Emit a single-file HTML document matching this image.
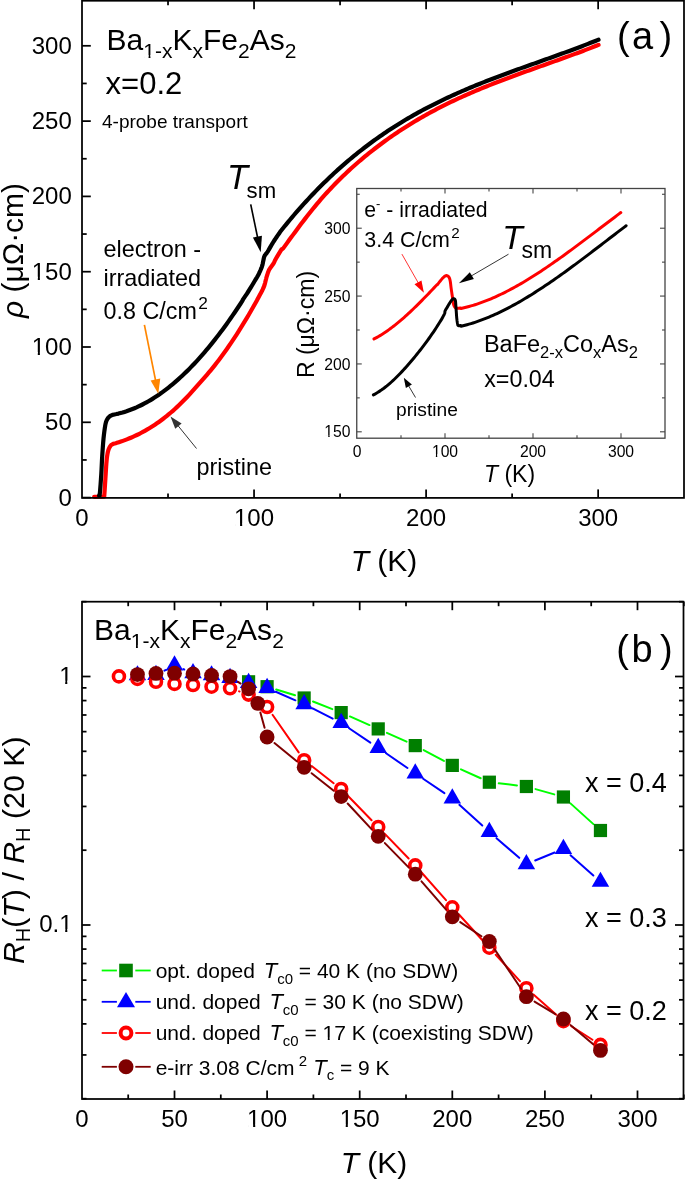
<!DOCTYPE html>
<html><head><meta charset="utf-8"><style>
html,body{margin:0;padding:0;background:#fff;width:685px;height:1180px;overflow:hidden}
svg{display:block;will-change:transform}
text{font-family:"Liberation Sans",sans-serif;fill:#000}
</style></head><body>
<svg width="685" height="1180" viewBox="0 0 685 1180" font-family="Liberation Sans, sans-serif"><polyline points="94.20,496.80 104.20,496.60 104.22,496.36 104.23,496.40 104.27,495.89 104.40,494.00 104.66,490.02 105.01,484.56 105.38,478.76 105.70,473.80 105.94,469.92 106.15,466.54 106.36,463.51 106.60,460.70 106.88,458.11 107.18,455.81 107.52,453.75 107.90,451.90 108.34,450.28 108.82,448.91 109.34,447.73 109.90,446.70 110.47,445.86 111.05,445.21 111.71,444.68 112.50,444.20 113.47,443.79 114.59,443.48 115.76,443.20 116.90,442.85 118.90,442.22 120.90,441.56 122.90,440.86 124.90,440.13 126.90,439.37 128.90,438.57 130.90,437.73 132.90,436.86 134.90,435.95 136.90,435.01 138.90,434.02 140.90,433.00 142.90,431.93 144.90,430.83 146.90,429.69 148.90,428.50 150.90,427.27 152.90,426.00 154.90,424.68 156.90,423.33 158.90,421.92 160.90,420.47 162.90,418.98 164.90,417.44 166.90,415.85 168.90,414.21 170.90,412.52 172.90,410.79 174.90,409.01 176.90,407.17 178.90,405.28 180.90,403.35 182.90,401.36 184.90,399.31 186.90,397.22 188.90,395.08 190.90,392.89 192.90,390.68 194.90,388.44 196.90,386.19 198.90,383.93 200.90,381.66 202.90,379.39 204.90,377.11 206.90,374.80 208.90,372.46 210.90,370.07 212.90,367.62 214.90,365.12 216.90,362.56 218.90,359.95 220.90,357.28 222.90,354.55 224.90,351.78 226.90,348.95 228.90,346.06 230.90,343.13 232.90,340.14 234.90,337.10 236.90,334.02 238.90,330.88 240.90,327.69 242.90,324.45 244.90,321.16 246.90,317.83 248.90,314.45 250.90,311.02 252.90,307.54 254.90,304.02 256.90,300.45 257.10,300.00 258.47,297.42 259.91,294.76 261.31,292.14 262.58,289.68 263.60,287.50 264.33,285.63 264.84,283.99 265.20,282.54 265.49,281.22 265.80,280.00 266.09,278.95 266.30,278.09 266.50,277.32 266.71,276.53 267.00,275.60 267.34,274.52 267.71,273.35 268.13,272.14 268.62,270.91 269.20,269.70 269.94,268.49 270.81,267.27 271.74,266.05 272.63,264.85 273.40,263.70 273.95,262.71 274.34,261.86 274.72,261.00 275.22,259.93 276.00,258.50 277.12,256.60 278.48,254.35 279.99,251.90 281.53,249.40 283.00,248.63 285.00,245.87 287.00,243.11 289.00,240.35 291.00,237.60 293.00,234.87 295.00,232.15 297.00,229.45 299.00,226.76 301.00,224.10 303.00,221.46 305.00,218.86 307.00,216.28 309.00,213.73 311.00,211.22 313.00,208.74 315.00,206.31 317.00,203.92 319.00,201.56 321.00,199.24 323.00,196.96 325.00,194.72 327.00,192.51 329.00,190.34 331.00,188.20 333.00,186.10 335.00,184.02 337.00,181.99 339.00,179.98 341.00,178.00 343.00,176.06 345.00,174.14 347.00,172.25 349.00,170.40 351.00,168.56 353.00,166.76 355.00,164.98 357.00,163.23 359.00,161.50 361.00,159.80 363.00,158.12 365.00,156.46 367.00,154.83 369.00,153.21 371.00,151.62 373.00,150.05 375.00,148.49 377.00,146.96 379.00,145.45 381.00,143.95 383.00,142.48 385.00,141.02 387.00,139.58 389.00,138.16 391.00,136.76 393.00,135.38 395.00,134.01 397.00,132.66 399.00,131.33 401.00,130.02 403.00,128.72 405.00,127.44 407.00,126.17 409.00,124.92 411.00,123.69 413.00,122.47 415.00,121.27 417.00,120.08 419.00,118.91 421.00,117.75 423.00,116.61 425.00,115.48 427.00,114.36 429.00,113.26 431.00,112.17 433.00,111.09 435.00,110.03 437.00,108.98 439.00,107.95 441.00,106.92 443.00,105.91 445.00,104.91 447.00,103.92 449.00,102.94 451.00,101.97 453.00,101.01 455.00,100.07 457.00,99.13 459.00,98.21 461.00,97.29 463.00,96.39 465.00,95.49 467.00,94.60 469.00,93.73 471.00,92.86 473.00,92.00 475.00,91.14 477.00,90.30 479.00,89.46 481.00,88.63 483.00,87.81 485.00,87.00 487.00,86.19 489.00,85.39 491.00,84.59 493.00,83.81 495.00,83.02 497.00,82.25 499.00,81.47 501.00,80.71 503.00,79.95 505.00,79.19 507.00,78.44 509.00,77.69 511.00,76.95 513.00,76.21 515.00,75.47 517.00,74.74 519.00,74.01 521.00,73.28 523.00,72.56 525.00,71.84 527.00,71.12 529.00,70.40 531.00,69.68 533.00,68.97 535.00,68.26 537.00,67.54 539.00,66.83 541.00,66.12 543.00,65.41 545.00,64.70 547.00,63.99 549.00,63.28 551.00,62.57 553.00,61.86 555.00,61.14 557.00,60.43 559.00,59.71 561.00,58.99 563.00,58.27 565.00,57.55 567.00,56.83 569.00,56.10 571.00,55.37 573.00,54.64 575.00,53.90 577.00,53.16 579.00,52.41 581.00,51.66 583.00,50.91 585.00,50.15 587.00,49.39 589.00,48.62 591.00,47.85 593.00,47.07 595.00,46.29 597.00,45.50 598.50,44.90" fill="none" stroke="#ff0000" stroke-width="4.2" stroke-linejoin="round" stroke-linecap="round" />
<polyline points="99.10,495.50 99.26,495.53 99.40,495.86 99.57,495.60 99.80,493.90 100.13,490.11 100.54,484.84 100.95,479.08 101.30,473.80 101.56,469.24 101.76,464.89 101.96,460.61 102.20,456.30 102.49,451.82 102.80,447.27 103.14,442.87 103.50,438.80 103.90,435.04 104.33,431.51 104.77,428.35 105.20,425.70 105.58,423.70 105.94,422.25 106.33,421.10 106.80,420.00 107.39,418.93 108.06,417.99 108.78,417.19 109.50,416.50 110.23,415.97 110.98,415.58 111.74,415.26 112.50,414.86 114.50,414.48 116.50,414.06 118.50,413.59 120.50,413.07 122.50,412.52 124.50,411.91 126.50,411.27 128.50,410.57 130.50,409.84 132.50,409.06 134.50,408.23 136.50,407.37 138.50,406.45 140.50,405.50 142.50,404.50 144.50,403.46 146.50,402.37 148.50,401.24 150.50,400.07 152.50,398.85 154.50,397.59 156.50,396.29 158.50,394.94 160.50,393.55 162.50,392.12 164.50,390.65 166.50,389.13 168.50,387.57 170.50,385.97 172.50,384.32 174.50,382.64 176.50,380.91 178.50,379.14 180.50,377.32 182.50,375.47 184.50,373.57 186.50,371.63 188.50,369.65 190.50,367.62 192.50,365.56 194.50,363.45 196.50,361.31 198.50,359.12 200.50,356.89 202.50,354.61 204.50,352.30 206.50,349.95 208.50,347.55 210.50,345.12 212.50,342.64 214.50,340.12 216.50,337.57 218.50,334.97 220.50,332.33 222.50,329.65 224.50,326.93 226.50,324.17 228.50,321.37 230.50,318.53 232.50,315.65 234.50,312.73 236.50,309.77 238.50,306.77 240.50,303.74 242.50,300.66 242.70,300.00 243.74,298.45 244.75,296.94 245.78,295.42 246.85,293.79 248.00,292.00 249.30,289.92 250.72,287.60 252.16,285.22 253.52,282.96 254.70,281.00 255.65,279.43 256.45,278.14 257.15,276.98 257.81,275.81 258.50,274.50 259.24,272.99 259.98,271.38 260.70,269.75 261.35,268.16 261.90,266.70 262.31,265.38 262.61,264.15 262.85,262.99 263.06,261.88 263.30,260.80 263.52,259.76 263.71,258.77 263.90,257.82 264.15,256.90 264.50,256.00 264.98,255.17 265.55,254.40 266.18,253.64 266.84,252.83 267.50,251.90 268.17,250.82 268.86,249.63 269.57,248.38 270.29,247.12 271.00,245.90 271.68,244.74 272.35,243.62 273.03,242.49 273.76,241.30 274.60,240.00 275.56,238.56 276.63,237.02 277.75,235.41 278.89,233.79 280.00,232.04 282.00,229.52 284.00,227.04 286.00,224.58 288.00,222.15 290.00,219.74 292.00,217.36 294.00,215.01 296.00,212.69 298.00,210.39 300.00,208.12 302.00,205.88 304.00,203.66 306.00,201.47 308.00,199.30 310.00,197.16 312.00,195.04 314.00,192.94 316.00,190.88 318.00,188.83 320.00,186.81 322.00,184.81 324.00,182.84 326.00,180.89 328.00,178.96 330.00,177.06 332.00,175.18 334.00,173.32 336.00,171.49 338.00,169.67 340.00,167.88 342.00,166.11 344.00,164.36 346.00,162.63 348.00,160.92 350.00,159.24 352.00,157.57 354.00,155.93 356.00,154.30 358.00,152.70 360.00,151.11 362.00,149.54 364.00,148.00 366.00,146.47 368.00,144.96 370.00,143.47 372.00,141.99 374.00,140.54 376.00,139.10 378.00,137.69 380.00,136.28 382.00,134.90 384.00,133.53 386.00,132.18 388.00,130.85 390.00,129.53 392.00,128.23 394.00,126.95 396.00,125.68 398.00,124.42 400.00,123.18 402.00,121.96 404.00,120.75 406.00,119.56 408.00,118.38 410.00,117.21 412.00,116.06 414.00,114.93 416.00,113.80 418.00,112.69 420.00,111.59 422.00,110.51 424.00,109.44 426.00,108.38 428.00,107.33 430.00,106.29 432.00,105.27 434.00,104.26 436.00,103.26 438.00,102.27 440.00,101.29 442.00,100.32 444.00,99.37 446.00,98.42 448.00,97.48 450.00,96.55 452.00,95.64 454.00,94.73 456.00,93.83 458.00,92.94 460.00,92.06 462.00,91.19 464.00,90.32 466.00,89.47 468.00,88.62 470.00,87.78 472.00,86.94 474.00,86.12 476.00,85.30 478.00,84.49 480.00,83.68 482.00,82.88 484.00,82.09 486.00,81.30 488.00,80.52 490.00,79.74 492.00,78.97 494.00,78.20 496.00,77.44 498.00,76.69 500.00,75.93 502.00,75.19 504.00,74.44 506.00,73.70 508.00,72.97 510.00,72.23 512.00,71.50 514.00,70.77 516.00,70.05 518.00,69.33 520.00,68.61 522.00,67.89 524.00,67.17 526.00,66.46 528.00,65.74 530.00,65.03 532.00,64.32 534.00,63.61 536.00,62.90 538.00,62.18 540.00,61.47 542.00,60.76 544.00,60.05 546.00,59.34 548.00,58.63 550.00,57.91 552.00,57.20 554.00,56.48 556.00,55.76 558.00,55.04 560.00,54.32 562.00,53.60 564.00,52.87 566.00,52.14 568.00,51.41 570.00,50.67 572.00,49.93 574.00,49.19 576.00,48.44 578.00,47.69 580.00,46.93 582.00,46.17 584.00,45.40 586.00,44.63 588.00,43.86 590.00,43.08 592.00,42.29 594.00,41.50 596.00,40.70 598.00,39.89 598.50,39.69" fill="none" stroke="#000" stroke-width="4.2" stroke-linejoin="round" stroke-linecap="round" />
<rect x="82" y="0.75" width="602" height="497.15" fill="none" stroke="#000" stroke-width="1.75"/>
<line x1="82.00" y1="497.60" x2="90.80" y2="497.60" stroke="#000" stroke-width="1.75"/>
<line x1="82.00" y1="459.95" x2="86.70" y2="459.95" stroke="#000" stroke-width="1.75"/>
<line x1="82.00" y1="422.30" x2="90.80" y2="422.30" stroke="#000" stroke-width="1.75"/>
<line x1="82.00" y1="384.65" x2="86.70" y2="384.65" stroke="#000" stroke-width="1.75"/>
<line x1="82.00" y1="347.00" x2="90.80" y2="347.00" stroke="#000" stroke-width="1.75"/>
<line x1="82.00" y1="309.35" x2="86.70" y2="309.35" stroke="#000" stroke-width="1.75"/>
<line x1="82.00" y1="271.70" x2="90.80" y2="271.70" stroke="#000" stroke-width="1.75"/>
<line x1="82.00" y1="234.05" x2="86.70" y2="234.05" stroke="#000" stroke-width="1.75"/>
<line x1="82.00" y1="196.40" x2="90.80" y2="196.40" stroke="#000" stroke-width="1.75"/>
<line x1="82.00" y1="158.75" x2="86.70" y2="158.75" stroke="#000" stroke-width="1.75"/>
<line x1="82.00" y1="121.10" x2="90.80" y2="121.10" stroke="#000" stroke-width="1.75"/>
<line x1="82.00" y1="83.45" x2="86.70" y2="83.45" stroke="#000" stroke-width="1.75"/>
<line x1="82.00" y1="45.80" x2="90.80" y2="45.80" stroke="#000" stroke-width="1.75"/>
<line x1="168.02" y1="497.90" x2="168.02" y2="493.40" stroke="#000" stroke-width="1.75"/>
<line x1="168.02" y1="0.75" x2="168.02" y2="5.25" stroke="#000" stroke-width="1.75"/>
<line x1="254.05" y1="497.90" x2="254.05" y2="489.40" stroke="#000" stroke-width="1.75"/>
<line x1="254.05" y1="0.75" x2="254.05" y2="9.25" stroke="#000" stroke-width="1.75"/>
<line x1="340.07" y1="497.90" x2="340.07" y2="493.40" stroke="#000" stroke-width="1.75"/>
<line x1="340.07" y1="0.75" x2="340.07" y2="5.25" stroke="#000" stroke-width="1.75"/>
<line x1="426.10" y1="497.90" x2="426.10" y2="489.40" stroke="#000" stroke-width="1.75"/>
<line x1="426.10" y1="0.75" x2="426.10" y2="9.25" stroke="#000" stroke-width="1.75"/>
<line x1="512.12" y1="497.90" x2="512.12" y2="493.40" stroke="#000" stroke-width="1.75"/>
<line x1="512.12" y1="0.75" x2="512.12" y2="5.25" stroke="#000" stroke-width="1.75"/>
<line x1="598.15" y1="497.90" x2="598.15" y2="489.40" stroke="#000" stroke-width="1.75"/>
<line x1="598.15" y1="0.75" x2="598.15" y2="9.25" stroke="#000" stroke-width="1.75"/>
<text x="71.80" y="505.50" font-size="24" text-anchor="end" >0</text>
<text x="71.80" y="430.20" font-size="24" text-anchor="end" >50</text>
<text x="71.80" y="354.90" font-size="24" text-anchor="end" >100</text>
<rect x="32.91" y="352.01" width="4.88" height="3.59" fill="#fff"/>
<rect x="39.91" y="352.01" width="4.69" height="3.59" fill="#fff"/>
<text x="71.80" y="279.60" font-size="24" text-anchor="end" >150</text>
<rect x="32.91" y="276.71" width="4.88" height="3.59" fill="#fff"/>
<rect x="39.91" y="276.71" width="4.69" height="3.59" fill="#fff"/>
<text x="71.80" y="204.30" font-size="24" text-anchor="end" >200</text>
<text x="71.80" y="129.00" font-size="24" text-anchor="end" >250</text>
<text x="71.80" y="53.70" font-size="24" text-anchor="end" >300</text>
<text x="82.00" y="526.40" font-size="24" text-anchor="middle" >0</text>
<text x="254.05" y="526.40" font-size="24" text-anchor="middle" >100</text>
<rect x="235.19" y="523.51" width="4.88" height="3.59" fill="#fff"/>
<rect x="242.18" y="523.51" width="4.69" height="3.59" fill="#fff"/>
<text x="426.10" y="526.40" font-size="24" text-anchor="middle" >200</text>
<text x="598.15" y="526.40" font-size="24" text-anchor="middle" >300</text>
<text x="384" y="571" font-size="30" text-anchor="middle"><tspan font-style="italic">T</tspan> (K)</text>
<text transform="translate(23,250.5) rotate(-90)" font-size="30" text-anchor="middle"><tspan font-style="italic">ρ</tspan> (μΩ·cm)</text>
<text x="106.6" y="49.5" font-size="30">Ba<tspan font-size="21" dy="8.3">1-x</tspan><tspan dy="-8.3">K</tspan><tspan font-size="21" dy="8.3">x</tspan><tspan dy="-8.3">Fe</tspan><tspan font-size="21" dy="8.3">2</tspan><tspan dy="-8.3">As</tspan><tspan font-size="21" dy="8.3">2</tspan></text>
<text x="105.60" y="93.60" font-size="31" text-anchor="start" >x=0.2</text>
<text x="102.00" y="128.00" font-size="19" text-anchor="start" >4-probe transport</text>
<rect x="144.23" y="55.13" width="4.34" height="3.37" fill="#fff"/>
<rect x="150.43" y="55.13" width="4.18" height="3.37" fill="#fff"/>
<text x="103.50" y="256.60" font-size="23.4" text-anchor="start" >electron -</text>
<text x="103.50" y="286.00" font-size="23.4" text-anchor="start" >irradiated</text>
<text x="103.6" y="319.2" font-size="23.3">0.8 C/cm<tspan font-size="17.3" dx="1.5" dy="-9.8">2</tspan></text>
<text x="196.50" y="474.60" font-size="23.4" text-anchor="start" >pristine</text>
<text x="226.9" y="188.5" font-size="34.4" font-style="italic">T</text>
<text x="246.60" y="197.60" font-size="22.2" text-anchor="start" >sm</text>
<text x="617" y="49.1" font-size="38">(</text><text x="632" y="49.1" font-size="38">a</text><text x="659.5" y="49.1" font-size="38">)</text>
<line x1="144.40" y1="324.90" x2="155.63" y2="380.57" stroke="#ff8600" stroke-width="1.7"/>
<polygon points="158.30,393.80 150.63,380.56 160.24,378.62" fill="#ff8600"/>
<line x1="196.50" y1="448.50" x2="177.80" y2="425.41" stroke="#333" stroke-width="1.0"/>
<polygon points="170.50,416.40 181.62,423.61 175.24,428.77" fill="#333"/>
<line x1="250.70" y1="204.40" x2="257.63" y2="237.62" stroke="#000" stroke-width="1.65"/>
<polygon points="260.70,252.30 252.93,237.58 261.93,235.70" fill="#000"/>
<rect x="356.75" y="188.5" width="308.25" height="249.7" fill="#fff" stroke="#444" stroke-width="1.3"/>
<line x1="356.75" y1="431.80" x2="361.75" y2="431.80" stroke="#444" stroke-width="1.1"/>
<line x1="665.00" y1="431.80" x2="660.00" y2="431.80" stroke="#444" stroke-width="1.1"/>
<line x1="356.75" y1="397.87" x2="359.75" y2="397.87" stroke="#444" stroke-width="1.1"/>
<line x1="665.00" y1="397.87" x2="662.00" y2="397.87" stroke="#444" stroke-width="1.1"/>
<line x1="356.75" y1="363.94" x2="361.75" y2="363.94" stroke="#444" stroke-width="1.1"/>
<line x1="665.00" y1="363.94" x2="660.00" y2="363.94" stroke="#444" stroke-width="1.1"/>
<line x1="356.75" y1="330.00" x2="359.75" y2="330.00" stroke="#444" stroke-width="1.1"/>
<line x1="665.00" y1="330.00" x2="662.00" y2="330.00" stroke="#444" stroke-width="1.1"/>
<line x1="356.75" y1="296.07" x2="361.75" y2="296.07" stroke="#444" stroke-width="1.1"/>
<line x1="665.00" y1="296.07" x2="660.00" y2="296.07" stroke="#444" stroke-width="1.1"/>
<line x1="356.75" y1="262.14" x2="359.75" y2="262.14" stroke="#444" stroke-width="1.1"/>
<line x1="665.00" y1="262.14" x2="662.00" y2="262.14" stroke="#444" stroke-width="1.1"/>
<line x1="356.75" y1="228.21" x2="361.75" y2="228.21" stroke="#444" stroke-width="1.1"/>
<line x1="665.00" y1="228.21" x2="660.00" y2="228.21" stroke="#444" stroke-width="1.1"/>
<line x1="356.75" y1="194.27" x2="359.75" y2="194.27" stroke="#444" stroke-width="1.1"/>
<line x1="665.00" y1="194.27" x2="662.00" y2="194.27" stroke="#444" stroke-width="1.1"/>
<line x1="401.00" y1="438.20" x2="401.00" y2="435.20" stroke="#444" stroke-width="1.1"/>
<line x1="401.00" y1="188.50" x2="401.00" y2="191.50" stroke="#444" stroke-width="1.1"/>
<line x1="445.00" y1="438.20" x2="445.00" y2="433.20" stroke="#444" stroke-width="1.1"/>
<line x1="445.00" y1="188.50" x2="445.00" y2="193.50" stroke="#444" stroke-width="1.1"/>
<line x1="489.00" y1="438.20" x2="489.00" y2="435.20" stroke="#444" stroke-width="1.1"/>
<line x1="489.00" y1="188.50" x2="489.00" y2="191.50" stroke="#444" stroke-width="1.1"/>
<line x1="533.00" y1="438.20" x2="533.00" y2="433.20" stroke="#444" stroke-width="1.1"/>
<line x1="533.00" y1="188.50" x2="533.00" y2="193.50" stroke="#444" stroke-width="1.1"/>
<line x1="577.00" y1="438.20" x2="577.00" y2="435.20" stroke="#444" stroke-width="1.1"/>
<line x1="577.00" y1="188.50" x2="577.00" y2="191.50" stroke="#444" stroke-width="1.1"/>
<line x1="621.00" y1="438.20" x2="621.00" y2="433.20" stroke="#444" stroke-width="1.1"/>
<line x1="621.00" y1="188.50" x2="621.00" y2="193.50" stroke="#444" stroke-width="1.1"/>
<text x="350.50" y="437.40" font-size="15.7" text-anchor="end" >150</text>
<rect x="324.86" y="435.13" width="3.40" height="2.97" fill="#fff"/>
<rect x="329.64" y="435.13" width="3.28" height="2.97" fill="#fff"/>
<text x="350.50" y="369.54" font-size="15.7" text-anchor="end" >200</text>
<text x="350.50" y="301.67" font-size="15.7" text-anchor="end" >250</text>
<text x="350.50" y="233.81" font-size="15.7" text-anchor="end" >300</text>
<text x="357.00" y="456.50" font-size="15.7" text-anchor="middle" >0</text>
<text x="445.00" y="456.50" font-size="15.7" text-anchor="middle" >100</text>
<rect x="432.45" y="454.23" width="3.40" height="2.97" fill="#fff"/>
<rect x="437.24" y="454.23" width="3.28" height="2.97" fill="#fff"/>
<text x="533.00" y="456.50" font-size="15.7" text-anchor="middle" >200</text>
<text x="621.00" y="456.50" font-size="15.7" text-anchor="middle" >300</text>
<text x="509.5" y="482.4" font-size="23" text-anchor="middle"><tspan font-style="italic">T</tspan> (K)</text>
<text transform="translate(313.5,324.5) rotate(-90)" font-size="23" text-anchor="middle">R (μΩ·cm)</text>
<polyline points="374.00,338.95 375.50,338.16 377.00,337.34 378.50,336.49 380.00,335.61 381.50,334.69 383.00,333.74 384.50,332.76 386.00,331.75 387.50,330.71 389.00,329.64 390.50,328.54 392.00,327.41 393.50,326.26 395.00,325.08 396.50,323.88 398.00,322.66 399.50,321.41 401.00,320.13 402.50,318.84 404.00,317.52 405.50,316.18 407.00,314.83 408.50,313.45 410.00,312.06 411.50,310.65 413.00,309.22 414.50,307.77 416.00,306.31 417.50,304.84 419.00,303.35 420.50,301.85 422.00,300.34 423.50,298.81 425.00,297.27 426.50,295.73 428.00,294.17 429.50,292.61 431.00,291.04 432.50,289.46 434.00,287.87 435.50,286.28 437.00,284.69 437.50,284.50 438.40,283.37 439.33,282.18 440.26,280.99 441.17,279.86 442.02,278.85 442.80,278.00 443.50,277.32 444.13,276.75 444.72,276.30 445.27,275.96 445.79,275.73 446.30,275.60 446.80,275.60 447.28,275.72 447.74,275.96 448.16,276.28 448.55,276.67 448.90,277.10 449.20,277.58 449.44,278.11 449.66,278.71 449.84,279.38 450.02,280.14 450.20,281.00 450.37,281.97 450.51,283.04 450.65,284.19 450.79,285.42 450.93,286.69 451.10,288.00 451.30,289.38 451.51,290.86 451.74,292.39 451.97,293.92 452.19,295.41 452.40,296.80 452.59,298.14 452.77,299.46 452.94,300.74 453.11,301.95 453.30,303.04 453.50,304.00 453.72,304.80 453.93,305.48 454.16,306.04 454.41,306.52 454.69,306.93 455.00,307.30 455.35,307.60 455.72,307.82 456.12,307.97 456.56,308.07 457.01,308.14 457.50,308.20 458.03,308.23 458.59,308.21 459.19,308.17 459.80,308.11 460.41,308.05 461.00,308.43 463.00,307.98 465.00,307.51 467.00,307.01 469.00,306.48 471.00,305.92 473.00,305.33 475.00,304.71 477.00,304.06 479.00,303.39 481.00,302.68 483.00,301.95 485.00,301.20 487.00,300.42 489.00,299.61 491.00,298.78 493.00,297.92 495.00,297.04 497.00,296.14 499.00,295.21 501.00,294.26 503.00,293.28 505.00,292.29 507.00,291.27 509.00,290.23 511.00,289.18 513.00,288.10 515.00,287.00 517.00,285.88 519.00,284.75 521.00,283.59 523.00,282.42 525.00,281.23 527.00,280.02 529.00,278.80 531.00,277.56 533.00,276.31 535.00,275.04 537.00,273.75 539.00,272.45 541.00,271.14 543.00,269.81 545.00,268.47 547.00,267.12 549.00,265.76 551.00,264.38 553.00,263.00 555.00,261.60 557.00,260.19 559.00,258.77 561.00,257.35 563.00,255.91 565.00,254.47 567.00,253.02 569.00,251.56 571.00,250.09 573.00,248.62 575.00,247.14 577.00,245.65 579.00,244.16 581.00,242.66 583.00,241.16 585.00,239.66 587.00,238.15 589.00,236.64 591.00,235.13 593.00,233.61 595.00,232.10 597.00,230.58 599.00,229.06 601.00,227.54 603.00,226.02 605.00,224.50 607.00,222.98 609.00,221.47 611.00,219.95 613.00,218.44 615.00,216.93 617.00,215.42 619.00,213.92 620.80,212.57" fill="none" stroke="#ff0000" stroke-width="3.0" stroke-linejoin="round" stroke-linecap="round" />
<polyline points="373.40,394.88 374.90,394.09 376.40,393.23 377.90,392.33 379.40,391.37 380.90,390.37 382.40,389.31 383.90,388.21 385.40,387.05 386.90,385.86 388.40,384.61 389.90,383.33 391.40,382.00 392.90,380.63 394.40,379.23 395.90,377.78 397.40,376.30 398.90,374.78 400.40,373.23 401.90,371.64 403.40,370.02 404.90,368.38 406.40,366.70 407.90,364.99 409.40,363.26 410.90,361.50 412.40,359.72 413.90,357.92 415.40,356.09 416.90,354.24 418.40,352.37 419.90,350.48 421.40,348.56 422.90,346.61 424.40,344.64 425.90,342.63 427.40,340.58 428.90,338.50 430.40,336.39 431.90,334.23 433.40,332.04 434.90,329.80 436.40,327.51 437.90,325.18 439.40,322.80 440.90,320.36 442.00,318.60 442.46,317.72 442.94,316.81 443.43,315.89 443.89,315.01 444.29,314.21 444.60,313.50 444.79,312.93 444.87,312.48 444.89,312.10 444.90,311.74 444.95,311.36 445.10,310.90 445.33,310.39 445.61,309.86 445.94,309.31 446.30,308.72 446.69,308.09 447.10,307.40 447.56,306.62 448.09,305.73 448.64,304.81 449.20,303.89 449.73,303.04 450.20,302.30 450.61,301.68 451.00,301.12 451.35,300.63 451.68,300.20 452.00,299.82 452.30,299.50 452.58,299.22 452.84,299.00 453.09,298.83 453.32,298.72 453.56,298.68 453.80,298.70 454.06,298.78 454.34,298.91 454.61,299.10 454.87,299.37 455.11,299.73 455.30,300.20 455.44,300.78 455.54,301.47 455.61,302.26 455.67,303.11 455.73,304.03 455.80,305.00 455.88,306.04 455.97,307.19 456.05,308.39 456.13,309.61 456.22,310.83 456.30,312.00 456.38,313.14 456.46,314.27 456.53,315.40 456.61,316.50 456.70,317.57 456.80,318.60 456.92,319.61 457.04,320.63 457.18,321.61 457.32,322.53 457.46,323.33 457.60,324.00 457.71,324.51 457.80,324.88 457.89,325.14 458.00,325.33 458.16,325.48 458.40,325.60 458.73,325.68 459.13,325.69 459.59,325.66 460.07,325.60 460.55,325.54 461.00,326.28 463.00,325.80 465.00,325.29 467.00,324.75 469.00,324.18 471.00,323.59 473.00,322.96 475.00,322.31 477.00,321.64 479.00,320.94 481.00,320.21 483.00,319.46 485.00,318.68 487.00,317.88 489.00,317.06 491.00,316.21 493.00,315.34 495.00,314.44 497.00,313.53 499.00,312.59 501.00,311.63 503.00,310.65 505.00,309.64 507.00,308.62 509.00,307.58 511.00,306.52 513.00,305.44 515.00,304.34 517.00,303.22 519.00,302.08 521.00,300.93 523.00,299.76 525.00,298.57 527.00,297.37 529.00,296.15 531.00,294.91 533.00,293.66 535.00,292.39 537.00,291.11 539.00,289.82 541.00,288.51 543.00,287.19 545.00,285.86 547.00,284.51 549.00,283.15 551.00,281.79 553.00,280.40 555.00,279.01 557.00,277.61 559.00,276.20 561.00,274.78 563.00,273.35 565.00,271.91 567.00,270.46 569.00,269.00 571.00,267.54 573.00,266.07 575.00,264.59 577.00,263.11 579.00,261.62 581.00,260.12 583.00,258.62 585.00,257.11 587.00,255.60 589.00,254.09 591.00,252.57 593.00,251.05 595.00,249.52 597.00,248.00 599.00,246.47 601.00,244.94 603.00,243.41 605.00,241.87 607.00,240.34 609.00,238.81 611.00,237.27 613.00,235.74 615.00,234.21 617.00,232.68 619.00,231.15 621.00,229.63 623.00,228.11 625.00,226.59 626.10,225.75" fill="none" stroke="#000" stroke-width="3.0" stroke-linejoin="round" stroke-linecap="round" />
<text x="364.3" y="217.4" font-size="21.2">e<tspan font-size="13" dy="-9">-</tspan><tspan dy="9"> - irradiated</tspan></text>
<text x="364.3" y="246.9" font-size="21.4">3.4 C/cm<tspan font-size="15.2" dx="1.3" dy="-8.9">2</tspan></text>
<text x="502.3" y="248.6" font-size="33.5" font-style="italic">T</text>
<text x="521.40" y="258.00" font-size="23" text-anchor="start" >sm</text>
<text x="483.9" y="352" font-size="23.5">BaFe<tspan font-size="16.5" dy="5.8">2-x</tspan><tspan dy="-5.8">Co</tspan><tspan font-size="16.5" dy="5.8">x</tspan><tspan dy="-5.8">As</tspan><tspan font-size="16.5" dy="5.8">2</tspan></text>
<text x="484.20" y="387.00" font-size="23.3" text-anchor="start" >x=0.04</text>
<text x="396.00" y="416.40" font-size="19.2" text-anchor="start" >pristine</text>
<line x1="401.90" y1="254.10" x2="418.46" y2="283.24" stroke="#ff0000" stroke-width="0.8"/>
<polygon points="423.90,292.80 414.49,284.34 421.45,280.39" fill="#ff0000"/>
<line x1="508.50" y1="254.20" x2="470.99" y2="276.13" stroke="#000" stroke-width="0.8"/>
<polygon points="458.90,283.20 469.83,272.18 473.87,279.08" fill="#000"/>
<line x1="415.50" y1="397.50" x2="408.38" y2="385.45" stroke="#000" stroke-width="0.8"/>
<polygon points="403.80,377.70 411.90,384.53 405.87,388.09" fill="#000"/>
<rect x="82" y="601.7" width="601.5" height="497.29999999999995" fill="none" stroke="#000" stroke-width="1.75"/>
<line x1="82.00" y1="1098.69" x2="86.50" y2="1098.69" stroke="#000" stroke-width="1.75"/>
<line x1="683.50" y1="1098.69" x2="679.00" y2="1098.69" stroke="#000" stroke-width="1.75"/>
<line x1="82.00" y1="1054.94" x2="86.50" y2="1054.94" stroke="#000" stroke-width="1.75"/>
<line x1="683.50" y1="1054.94" x2="679.00" y2="1054.94" stroke="#000" stroke-width="1.75"/>
<line x1="82.00" y1="1023.89" x2="86.50" y2="1023.89" stroke="#000" stroke-width="1.75"/>
<line x1="683.50" y1="1023.89" x2="679.00" y2="1023.89" stroke="#000" stroke-width="1.75"/>
<line x1="82.00" y1="999.81" x2="86.50" y2="999.81" stroke="#000" stroke-width="1.75"/>
<line x1="683.50" y1="999.81" x2="679.00" y2="999.81" stroke="#000" stroke-width="1.75"/>
<line x1="82.00" y1="980.13" x2="86.50" y2="980.13" stroke="#000" stroke-width="1.75"/>
<line x1="683.50" y1="980.13" x2="679.00" y2="980.13" stroke="#000" stroke-width="1.75"/>
<line x1="82.00" y1="963.49" x2="86.50" y2="963.49" stroke="#000" stroke-width="1.75"/>
<line x1="683.50" y1="963.49" x2="679.00" y2="963.49" stroke="#000" stroke-width="1.75"/>
<line x1="82.00" y1="949.08" x2="86.50" y2="949.08" stroke="#000" stroke-width="1.75"/>
<line x1="683.50" y1="949.08" x2="679.00" y2="949.08" stroke="#000" stroke-width="1.75"/>
<line x1="82.00" y1="936.37" x2="86.50" y2="936.37" stroke="#000" stroke-width="1.75"/>
<line x1="683.50" y1="936.37" x2="679.00" y2="936.37" stroke="#000" stroke-width="1.75"/>
<line x1="82.00" y1="925.00" x2="90.50" y2="925.00" stroke="#000" stroke-width="1.75"/>
<line x1="683.50" y1="925.00" x2="675.00" y2="925.00" stroke="#000" stroke-width="1.75"/>
<line x1="82.00" y1="850.19" x2="86.50" y2="850.19" stroke="#000" stroke-width="1.75"/>
<line x1="683.50" y1="850.19" x2="679.00" y2="850.19" stroke="#000" stroke-width="1.75"/>
<line x1="82.00" y1="806.44" x2="86.50" y2="806.44" stroke="#000" stroke-width="1.75"/>
<line x1="683.50" y1="806.44" x2="679.00" y2="806.44" stroke="#000" stroke-width="1.75"/>
<line x1="82.00" y1="775.39" x2="86.50" y2="775.39" stroke="#000" stroke-width="1.75"/>
<line x1="683.50" y1="775.39" x2="679.00" y2="775.39" stroke="#000" stroke-width="1.75"/>
<line x1="82.00" y1="751.31" x2="86.50" y2="751.31" stroke="#000" stroke-width="1.75"/>
<line x1="683.50" y1="751.31" x2="679.00" y2="751.31" stroke="#000" stroke-width="1.75"/>
<line x1="82.00" y1="731.63" x2="86.50" y2="731.63" stroke="#000" stroke-width="1.75"/>
<line x1="683.50" y1="731.63" x2="679.00" y2="731.63" stroke="#000" stroke-width="1.75"/>
<line x1="82.00" y1="714.99" x2="86.50" y2="714.99" stroke="#000" stroke-width="1.75"/>
<line x1="683.50" y1="714.99" x2="679.00" y2="714.99" stroke="#000" stroke-width="1.75"/>
<line x1="82.00" y1="700.58" x2="86.50" y2="700.58" stroke="#000" stroke-width="1.75"/>
<line x1="683.50" y1="700.58" x2="679.00" y2="700.58" stroke="#000" stroke-width="1.75"/>
<line x1="82.00" y1="687.87" x2="86.50" y2="687.87" stroke="#000" stroke-width="1.75"/>
<line x1="683.50" y1="687.87" x2="679.00" y2="687.87" stroke="#000" stroke-width="1.75"/>
<line x1="82.00" y1="676.50" x2="90.50" y2="676.50" stroke="#000" stroke-width="1.75"/>
<line x1="683.50" y1="676.50" x2="675.00" y2="676.50" stroke="#000" stroke-width="1.75"/>
<line x1="82.00" y1="601.69" x2="86.50" y2="601.69" stroke="#000" stroke-width="1.75"/>
<line x1="683.50" y1="601.69" x2="679.00" y2="601.69" stroke="#000" stroke-width="1.75"/>
<line x1="128.20" y1="1099.00" x2="128.20" y2="1094.50" stroke="#000" stroke-width="1.75"/>
<line x1="128.20" y1="601.70" x2="128.20" y2="606.20" stroke="#000" stroke-width="1.75"/>
<line x1="174.50" y1="1099.00" x2="174.50" y2="1090.50" stroke="#000" stroke-width="1.75"/>
<line x1="174.50" y1="601.70" x2="174.50" y2="610.20" stroke="#000" stroke-width="1.75"/>
<line x1="220.80" y1="1099.00" x2="220.80" y2="1094.50" stroke="#000" stroke-width="1.75"/>
<line x1="220.80" y1="601.70" x2="220.80" y2="606.20" stroke="#000" stroke-width="1.75"/>
<line x1="267.10" y1="1099.00" x2="267.10" y2="1090.50" stroke="#000" stroke-width="1.75"/>
<line x1="267.10" y1="601.70" x2="267.10" y2="610.20" stroke="#000" stroke-width="1.75"/>
<line x1="313.40" y1="1099.00" x2="313.40" y2="1094.50" stroke="#000" stroke-width="1.75"/>
<line x1="313.40" y1="601.70" x2="313.40" y2="606.20" stroke="#000" stroke-width="1.75"/>
<line x1="359.70" y1="1099.00" x2="359.70" y2="1090.50" stroke="#000" stroke-width="1.75"/>
<line x1="359.70" y1="601.70" x2="359.70" y2="610.20" stroke="#000" stroke-width="1.75"/>
<line x1="406.00" y1="1099.00" x2="406.00" y2="1094.50" stroke="#000" stroke-width="1.75"/>
<line x1="406.00" y1="601.70" x2="406.00" y2="606.20" stroke="#000" stroke-width="1.75"/>
<line x1="452.30" y1="1099.00" x2="452.30" y2="1090.50" stroke="#000" stroke-width="1.75"/>
<line x1="452.30" y1="601.70" x2="452.30" y2="610.20" stroke="#000" stroke-width="1.75"/>
<line x1="498.60" y1="1099.00" x2="498.60" y2="1094.50" stroke="#000" stroke-width="1.75"/>
<line x1="498.60" y1="601.70" x2="498.60" y2="606.20" stroke="#000" stroke-width="1.75"/>
<line x1="544.90" y1="1099.00" x2="544.90" y2="1090.50" stroke="#000" stroke-width="1.75"/>
<line x1="544.90" y1="601.70" x2="544.90" y2="610.20" stroke="#000" stroke-width="1.75"/>
<line x1="591.20" y1="1099.00" x2="591.20" y2="1094.50" stroke="#000" stroke-width="1.75"/>
<line x1="591.20" y1="601.70" x2="591.20" y2="606.20" stroke="#000" stroke-width="1.75"/>
<line x1="637.50" y1="1099.00" x2="637.50" y2="1090.50" stroke="#000" stroke-width="1.75"/>
<line x1="637.50" y1="601.70" x2="637.50" y2="610.20" stroke="#000" stroke-width="1.75"/>
<line x1="683.80" y1="1099.00" x2="683.80" y2="1094.50" stroke="#000" stroke-width="1.75"/>
<line x1="683.80" y1="601.70" x2="683.80" y2="606.20" stroke="#000" stroke-width="1.75"/>
<text x="72.50" y="683.50" font-size="24" text-anchor="end" >1</text>
<rect x="60.31" y="680.61" width="4.88" height="3.59" fill="#fff"/>
<rect x="67.31" y="680.61" width="4.69" height="3.59" fill="#fff"/>
<text x="72.50" y="932.00" font-size="24" text-anchor="end" >0.1</text>
<rect x="60.31" y="929.11" width="4.88" height="3.59" fill="#fff"/>
<rect x="67.31" y="929.11" width="4.69" height="3.59" fill="#fff"/>
<text x="81.90" y="1127.40" font-size="24" text-anchor="middle" >0</text>
<text x="174.50" y="1127.40" font-size="24" text-anchor="middle" >50</text>
<text x="267.10" y="1127.40" font-size="24" text-anchor="middle" >100</text>
<rect x="248.24" y="1124.51" width="4.88" height="3.59" fill="#fff"/>
<rect x="255.23" y="1124.51" width="4.69" height="3.59" fill="#fff"/>
<text x="359.70" y="1127.40" font-size="24" text-anchor="middle" >150</text>
<rect x="340.84" y="1124.51" width="4.88" height="3.59" fill="#fff"/>
<rect x="347.83" y="1124.51" width="4.69" height="3.59" fill="#fff"/>
<text x="452.30" y="1127.40" font-size="24" text-anchor="middle" >200</text>
<text x="544.90" y="1127.40" font-size="24" text-anchor="middle" >250</text>
<text x="637.50" y="1127.40" font-size="24" text-anchor="middle" >300</text>
<text x="374" y="1172.8" font-size="29.9" text-anchor="middle"><tspan font-style="italic">T</tspan> (K)</text>
<text transform="translate(23.5,850.3) rotate(-90)" font-size="30.3" text-anchor="middle"><tspan font-style="italic">R</tspan><tspan font-size="20" dy="6">H</tspan><tspan dy="-6">(</tspan><tspan font-style="italic">T</tspan>) / <tspan font-style="italic">R</tspan><tspan font-size="20" dy="6">H</tspan><tspan dy="-6"> (20 K)</tspan></text>
<text x="94" y="639.5" font-size="30">Ba<tspan font-size="21" dy="8.3">1-x</tspan><tspan dy="-8.3">K</tspan><tspan font-size="21" dy="8.3">x</tspan><tspan dy="-8.3">Fe</tspan><tspan font-size="21" dy="8.3">2</tspan><tspan dy="-8.3">As</tspan><tspan font-size="21" dy="8.3">2</tspan></text>
<text x="616.3" y="661.7" font-size="38">(</text><text x="631.5" y="661.7" font-size="38">b</text><text x="660" y="661.7" font-size="38">)</text>
<rect x="131.63" y="645.13" width="4.34" height="3.37" fill="#fff"/>
<rect x="137.83" y="645.13" width="4.18" height="3.37" fill="#fff"/>
<text x="585.00" y="791.50" font-size="27" text-anchor="start" >x = 0.4</text>
<text x="585.00" y="926.50" font-size="27" text-anchor="start" >x = 0.3</text>
<text x="585.00" y="1019.60" font-size="27" text-anchor="start" >x = 0.2</text>
<line x1="276.19" y1="689.47" x2="295.05" y2="695.23" stroke="#00ff00" stroke-width="2.0" stroke-linecap="round"/>
<line x1="312.98" y1="701.48" x2="332.34" y2="709.12" stroke="#00ff00" stroke-width="2.0" stroke-linecap="round"/>
<line x1="349.88" y1="716.43" x2="369.52" y2="725.07" stroke="#00ff00" stroke-width="2.0" stroke-linecap="round"/>
<line x1="386.88" y1="732.80" x2="406.60" y2="741.70" stroke="#00ff00" stroke-width="2.0" stroke-linecap="round"/>
<line x1="423.64" y1="750.08" x2="443.92" y2="760.92" stroke="#00ff00" stroke-width="2.0" stroke-linecap="round"/>
<line x1="460.95" y1="769.32" x2="480.69" y2="778.28" stroke="#00ff00" stroke-width="2.0" stroke-linecap="round"/>
<line x1="498.78" y1="783.30" x2="516.94" y2="785.40" stroke="#00ff00" stroke-width="2.0" stroke-linecap="round"/>
<line x1="535.52" y1="789.09" x2="554.28" y2="794.41" stroke="#00ff00" stroke-width="2.0" stroke-linecap="round"/>
<line x1="570.47" y1="803.37" x2="593.41" y2="824.13" stroke="#00ff00" stroke-width="2.0" stroke-linecap="round"/>
<rect x="241.98" y="675.20" width="13.2" height="13.2" fill="#007f00"/>
<rect x="260.50" y="680.10" width="13.2" height="13.2" fill="#007f00"/>
<rect x="297.54" y="691.40" width="13.2" height="13.2" fill="#007f00"/>
<rect x="334.58" y="706.00" width="13.2" height="13.2" fill="#007f00"/>
<rect x="371.62" y="722.30" width="13.2" height="13.2" fill="#007f00"/>
<rect x="408.66" y="739.00" width="13.2" height="13.2" fill="#007f00"/>
<rect x="445.70" y="758.80" width="13.2" height="13.2" fill="#007f00"/>
<rect x="482.74" y="775.60" width="13.2" height="13.2" fill="#007f00"/>
<rect x="519.78" y="779.90" width="13.2" height="13.2" fill="#007f00"/>
<rect x="556.82" y="790.40" width="13.2" height="13.2" fill="#007f00"/>
<rect x="593.86" y="823.90" width="13.2" height="13.2" fill="#007f00"/>
<line x1="164.41" y1="670.63" x2="166.07" y2="669.77" stroke="#0000ff" stroke-width="2.0" stroke-linecap="round"/>
<line x1="183.26" y1="669.09" x2="184.26" y2="669.51" stroke="#0000ff" stroke-width="2.0" stroke-linecap="round"/>
<line x1="275.81" y1="691.79" x2="295.43" y2="700.31" stroke="#0000ff" stroke-width="2.0" stroke-linecap="round"/>
<line x1="312.61" y1="708.40" x2="332.71" y2="718.60" stroke="#0000ff" stroke-width="2.0" stroke-linecap="round"/>
<line x1="349.05" y1="728.21" x2="370.35" y2="742.59" stroke="#0000ff" stroke-width="2.0" stroke-linecap="round"/>
<line x1="386.04" y1="753.29" x2="407.44" y2="768.01" stroke="#0000ff" stroke-width="2.0" stroke-linecap="round"/>
<line x1="423.12" y1="778.73" x2="444.44" y2="793.17" stroke="#0000ff" stroke-width="2.0" stroke-linecap="round"/>
<line x1="459.36" y1="804.86" x2="482.28" y2="825.54" stroke="#0000ff" stroke-width="2.0" stroke-linecap="round"/>
<line x1="496.51" y1="838.13" x2="519.21" y2="857.87" stroke="#0000ff" stroke-width="2.0" stroke-linecap="round"/>
<line x1="535.17" y1="860.49" x2="554.63" y2="852.51" stroke="#0000ff" stroke-width="2.0" stroke-linecap="round"/>
<line x1="570.52" y1="855.21" x2="593.36" y2="875.49" stroke="#0000ff" stroke-width="2.0" stroke-linecap="round"/>
<polygon points="137.46,665.17 128.71,680.37 146.21,680.37" fill="#0000ff"/>
<polygon points="155.98,664.87 147.23,680.07 164.73,680.07" fill="#0000ff"/>
<polygon points="174.50,655.27 165.75,670.47 183.25,670.47" fill="#0000ff"/>
<polygon points="193.02,663.07 184.27,678.27 201.77,678.27" fill="#0000ff"/>
<polygon points="211.54,665.17 202.79,680.37 220.29,680.37" fill="#0000ff"/>
<polygon points="230.06,667.87 221.31,683.07 238.81,683.07" fill="#0000ff"/>
<polygon points="248.58,672.87 239.83,688.07 257.33,688.07" fill="#0000ff"/>
<polygon points="267.10,677.87 258.35,693.07 275.85,693.07" fill="#0000ff"/>
<polygon points="304.14,693.97 295.39,709.17 312.89,709.17" fill="#0000ff"/>
<polygon points="341.18,712.77 332.43,727.97 349.93,727.97" fill="#0000ff"/>
<polygon points="378.22,737.77 369.47,752.97 386.97,752.97" fill="#0000ff"/>
<polygon points="415.26,763.27 406.51,778.47 424.01,778.47" fill="#0000ff"/>
<polygon points="452.30,788.37 443.55,803.57 461.05,803.57" fill="#0000ff"/>
<polygon points="489.34,821.77 480.59,836.97 498.09,836.97" fill="#0000ff"/>
<polygon points="526.38,853.97 517.63,869.17 535.13,869.17" fill="#0000ff"/>
<polygon points="563.42,838.77 554.67,853.97 572.17,853.97" fill="#0000ff"/>
<polygon points="600.46,871.67 591.71,886.87 609.21,886.87" fill="#0000ff"/>
<line x1="239.05" y1="691.36" x2="239.59" y2="691.54" stroke="#ff0000" stroke-width="2.0" stroke-linecap="round"/>
<line x1="256.47" y1="699.89" x2="259.21" y2="701.71" stroke="#ff0000" stroke-width="2.0" stroke-linecap="round"/>
<line x1="272.53" y1="714.80" x2="298.71" y2="752.40" stroke="#ff0000" stroke-width="2.0" stroke-linecap="round"/>
<line x1="311.64" y1="766.03" x2="333.68" y2="783.17" stroke="#ff0000" stroke-width="2.0" stroke-linecap="round"/>
<line x1="347.81" y1="795.80" x2="371.59" y2="820.20" stroke="#ff0000" stroke-width="2.0" stroke-linecap="round"/>
<line x1="384.82" y1="833.84" x2="408.66" y2="858.56" stroke="#ff0000" stroke-width="2.0" stroke-linecap="round"/>
<line x1="421.55" y1="872.52" x2="446.01" y2="900.18" stroke="#ff0000" stroke-width="2.0" stroke-linecap="round"/>
<line x1="458.72" y1="914.30" x2="482.92" y2="940.70" stroke="#ff0000" stroke-width="2.0" stroke-linecap="round"/>
<line x1="495.75" y1="954.71" x2="519.97" y2="981.19" stroke="#ff0000" stroke-width="2.0" stroke-linecap="round"/>
<line x1="533.48" y1="994.51" x2="556.32" y2="1014.79" stroke="#ff0000" stroke-width="2.0" stroke-linecap="round"/>
<line x1="571.41" y1="1026.24" x2="592.47" y2="1039.76" stroke="#ff0000" stroke-width="2.0" stroke-linecap="round"/>
<circle cx="118.94" cy="676.40" r="5.5" fill="#fff" stroke="#ff0000" stroke-width="3.6"/>
<circle cx="137.46" cy="678.90" r="5.5" fill="#fff" stroke="#ff0000" stroke-width="3.6"/>
<circle cx="155.98" cy="681.80" r="5.5" fill="#fff" stroke="#ff0000" stroke-width="3.6"/>
<circle cx="174.50" cy="683.90" r="5.5" fill="#fff" stroke="#ff0000" stroke-width="3.6"/>
<circle cx="193.02" cy="685.00" r="5.5" fill="#fff" stroke="#ff0000" stroke-width="3.6"/>
<circle cx="211.54" cy="686.70" r="5.5" fill="#fff" stroke="#ff0000" stroke-width="3.6"/>
<circle cx="230.06" cy="688.30" r="5.5" fill="#fff" stroke="#ff0000" stroke-width="3.6"/>
<circle cx="248.58" cy="694.60" r="5.5" fill="#fff" stroke="#ff0000" stroke-width="3.6"/>
<circle cx="267.10" cy="707.00" r="5.5" fill="#fff" stroke="#ff0000" stroke-width="3.6"/>
<circle cx="304.14" cy="760.20" r="5.5" fill="#fff" stroke="#ff0000" stroke-width="3.6"/>
<circle cx="341.18" cy="789.00" r="5.5" fill="#fff" stroke="#ff0000" stroke-width="3.6"/>
<circle cx="378.22" cy="827.00" r="5.5" fill="#fff" stroke="#ff0000" stroke-width="3.6"/>
<circle cx="415.26" cy="865.40" r="5.5" fill="#fff" stroke="#ff0000" stroke-width="3.6"/>
<circle cx="452.30" cy="907.30" r="5.5" fill="#fff" stroke="#ff0000" stroke-width="3.6"/>
<circle cx="489.34" cy="947.70" r="5.5" fill="#fff" stroke="#ff0000" stroke-width="3.6"/>
<circle cx="526.38" cy="988.20" r="5.5" fill="#fff" stroke="#ff0000" stroke-width="3.6"/>
<circle cx="563.42" cy="1021.10" r="5.5" fill="#fff" stroke="#ff0000" stroke-width="3.6"/>
<circle cx="600.46" cy="1044.90" r="5.5" fill="#fff" stroke="#ff0000" stroke-width="3.6"/>
<line x1="237.99" y1="681.83" x2="240.65" y2="683.57" stroke="#7f0000" stroke-width="2.0" stroke-linecap="round"/>
<line x1="260.36" y1="712.56" x2="264.58" y2="727.84" stroke="#7f0000" stroke-width="2.0" stroke-linecap="round"/>
<line x1="274.45" y1="743.02" x2="296.79" y2="761.28" stroke="#7f0000" stroke-width="2.0" stroke-linecap="round"/>
<line x1="311.59" y1="773.19" x2="333.73" y2="790.71" stroke="#7f0000" stroke-width="2.0" stroke-linecap="round"/>
<line x1="347.66" y1="803.55" x2="371.74" y2="829.35" stroke="#7f0000" stroke-width="2.0" stroke-linecap="round"/>
<line x1="384.86" y1="843.09" x2="408.62" y2="867.41" stroke="#7f0000" stroke-width="2.0" stroke-linecap="round"/>
<line x1="421.49" y1="881.37" x2="446.07" y2="909.63" stroke="#7f0000" stroke-width="2.0" stroke-linecap="round"/>
<line x1="460.20" y1="922.07" x2="481.44" y2="936.23" stroke="#7f0000" stroke-width="2.0" stroke-linecap="round"/>
<line x1="494.63" y1="949.39" x2="521.09" y2="988.81" stroke="#7f0000" stroke-width="2.0" stroke-linecap="round"/>
<line x1="534.52" y1="1001.60" x2="555.28" y2="1014.10" stroke="#7f0000" stroke-width="2.0" stroke-linecap="round"/>
<line x1="570.67" y1="1025.14" x2="593.21" y2="1044.26" stroke="#7f0000" stroke-width="2.0" stroke-linecap="round"/>
<circle cx="137.46" cy="674.60" r="7.4" fill="#7f0000"/>
<circle cx="155.98" cy="673.40" r="7.4" fill="#7f0000"/>
<circle cx="174.50" cy="673.20" r="7.4" fill="#7f0000"/>
<circle cx="193.02" cy="673.90" r="7.4" fill="#7f0000"/>
<circle cx="211.54" cy="675.40" r="7.4" fill="#7f0000"/>
<circle cx="230.06" cy="676.60" r="7.4" fill="#7f0000"/>
<circle cx="248.58" cy="688.80" r="7.4" fill="#7f0000"/>
<circle cx="257.84" cy="703.40" r="7.4" fill="#7f0000"/>
<circle cx="267.10" cy="737.00" r="7.4" fill="#7f0000"/>
<circle cx="304.14" cy="767.30" r="7.4" fill="#7f0000"/>
<circle cx="341.18" cy="796.60" r="7.4" fill="#7f0000"/>
<circle cx="378.22" cy="836.30" r="7.4" fill="#7f0000"/>
<circle cx="415.26" cy="874.20" r="7.4" fill="#7f0000"/>
<circle cx="452.30" cy="916.80" r="7.4" fill="#7f0000"/>
<circle cx="489.34" cy="941.50" r="7.4" fill="#7f0000"/>
<circle cx="526.38" cy="996.70" r="7.4" fill="#7f0000"/>
<circle cx="563.42" cy="1019.00" r="7.4" fill="#7f0000"/>
<circle cx="600.46" cy="1050.40" r="7.4" fill="#7f0000"/>
<line x1="101.70" y1="970.50" x2="116.90" y2="970.50" stroke="#00ff00" stroke-width="1.8"/>
<line x1="135.30" y1="970.50" x2="150.70" y2="970.50" stroke="#00ff00" stroke-width="1.8"/>
<rect x="119.20" y="963.70" width="13.6" height="13.6" fill="#007f00"/>
<line x1="101.70" y1="1001.80" x2="116.90" y2="1001.80" stroke="#0000ff" stroke-width="1.8"/>
<line x1="135.30" y1="1001.80" x2="150.70" y2="1001.80" stroke="#0000ff" stroke-width="1.8"/>
<polygon points="126.00,991.93 117.00,1007.33 135.00,1007.33" fill="#0000ff"/>
<line x1="101.70" y1="1033.00" x2="116.90" y2="1033.00" stroke="#ff0000" stroke-width="1.8"/>
<line x1="135.30" y1="1033.00" x2="150.70" y2="1033.00" stroke="#ff0000" stroke-width="1.8"/>
<circle cx="126.00" cy="1033.00" r="5.4" fill="#fff" stroke="#ff0000" stroke-width="4.0"/>
<line x1="101.70" y1="1066.80" x2="116.90" y2="1066.80" stroke="#7f0000" stroke-width="1.8"/>
<line x1="135.30" y1="1066.80" x2="150.70" y2="1066.80" stroke="#7f0000" stroke-width="1.8"/>
<circle cx="126.00" cy="1066.80" r="7.5" fill="#7f0000"/>
<text x="155.7" y="978.1" font-size="21">opt. doped<tspan font-style="italic" font-size="22" x="263.7">T</tspan><tspan font-size="15" dy="5.4">c0</tspan><tspan dy="-5.4"> = 40 K (no SDW)</tspan></text>
<text x="155.7" y="1009.4" font-size="21">und. doped<tspan font-style="italic" font-size="22" x="269.4">T</tspan><tspan font-size="15" dy="5.4">c0</tspan><tspan dy="-5.4"> = 30 K (no SDW)</tspan></text>
<text x="155.7" y="1040.2" font-size="21">und. doped<tspan font-style="italic" font-size="22" x="269.4">T</tspan><tspan font-size="15" dy="5.4">c0</tspan><tspan dy="-5.4"> = 17 K (coexisting SDW)</tspan></text>
<rect x="323.44" y="1037.53" width="4.34" height="3.37" fill="#fff"/>
<rect x="329.64" y="1037.53" width="4.18" height="3.37" fill="#fff"/>
<text x="155.7" y="1075" font-size="21">e-irr 3.08 C/cm<tspan font-size="15" dy="-9"> 2</tspan><tspan font-style="italic" font-size="22" x="313.2" dy="9">T</tspan><tspan font-size="15" dy="5.4">c</tspan><tspan dy="-5.4"> = 9 K</tspan></text></svg>
</body></html>
